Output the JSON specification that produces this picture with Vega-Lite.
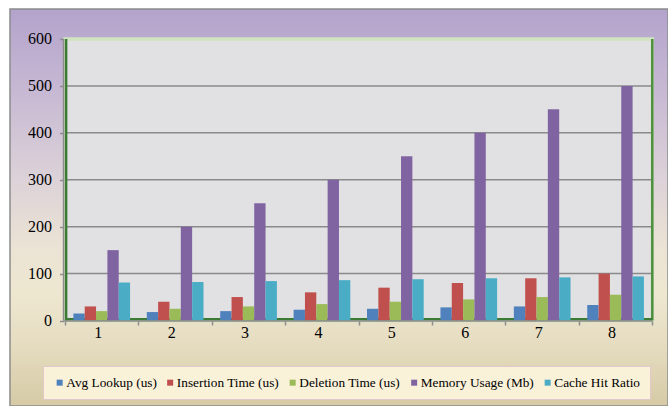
{
  "$schema": "https://vega.github.io/schema/vega-lite/v6.json",
  "width": 658,
  "height": 397,
  "autosize": {"type": "none"},
  "padding": {"left": 10, "top": 9, "right": 0, "bottom": 0},
  "background": "#FFFFFF",
  "config": {"view": {"stroke": null}, "font": "Liberation Serif"},
  "datasets": {
    "bars": [
      {"cat": "1", "series": "Avg Lookup (us)", "value": 15},
      {"cat": "2", "series": "Avg Lookup (us)", "value": 18},
      {"cat": "3", "series": "Avg Lookup (us)", "value": 20},
      {"cat": "4", "series": "Avg Lookup (us)", "value": 23},
      {"cat": "5", "series": "Avg Lookup (us)", "value": 25},
      {"cat": "6", "series": "Avg Lookup (us)", "value": 28},
      {"cat": "7", "series": "Avg Lookup (us)", "value": 30},
      {"cat": "8", "series": "Avg Lookup (us)", "value": 33},
      {"cat": "1", "series": "Insertion Time (us)", "value": 30},
      {"cat": "2", "series": "Insertion Time (us)", "value": 40},
      {"cat": "3", "series": "Insertion Time (us)", "value": 50},
      {"cat": "4", "series": "Insertion Time (us)", "value": 60},
      {"cat": "5", "series": "Insertion Time (us)", "value": 70},
      {"cat": "6", "series": "Insertion Time (us)", "value": 80},
      {"cat": "7", "series": "Insertion Time (us)", "value": 90},
      {"cat": "8", "series": "Insertion Time (us)", "value": 100},
      {"cat": "1", "series": "Deletion Time (us)", "value": 20},
      {"cat": "2", "series": "Deletion Time (us)", "value": 25},
      {"cat": "3", "series": "Deletion Time (us)", "value": 30},
      {"cat": "4", "series": "Deletion Time (us)", "value": 35},
      {"cat": "5", "series": "Deletion Time (us)", "value": 40},
      {"cat": "6", "series": "Deletion Time (us)", "value": 45},
      {"cat": "7", "series": "Deletion Time (us)", "value": 50},
      {"cat": "8", "series": "Deletion Time (us)", "value": 55},
      {"cat": "1", "series": "Memory Usage (Mb)", "value": 150},
      {"cat": "2", "series": "Memory Usage (Mb)", "value": 200},
      {"cat": "3", "series": "Memory Usage (Mb)", "value": 250},
      {"cat": "4", "series": "Memory Usage (Mb)", "value": 300},
      {"cat": "5", "series": "Memory Usage (Mb)", "value": 350},
      {"cat": "6", "series": "Memory Usage (Mb)", "value": 400},
      {"cat": "7", "series": "Memory Usage (Mb)", "value": 450},
      {"cat": "8", "series": "Memory Usage (Mb)", "value": 500},
      {"cat": "1", "series": "Cache Hit Ratio", "value": 81},
      {"cat": "2", "series": "Cache Hit Ratio", "value": 82},
      {"cat": "3", "series": "Cache Hit Ratio", "value": 84},
      {"cat": "4", "series": "Cache Hit Ratio", "value": 86},
      {"cat": "5", "series": "Cache Hit Ratio", "value": 88},
      {"cat": "6", "series": "Cache Hit Ratio", "value": 90},
      {"cat": "7", "series": "Cache Hit Ratio", "value": 92},
      {"cat": "8", "series": "Cache Hit Ratio", "value": 94}
    ],
    "grid": [{"v": 100}, {"v": 200}, {"v": 300}, {"v": 400}, {"v": 500}],
    "one": [{"k": 1}]
  },
  "layer": [
    {
      "data": {"name": "one"},
      "mark": {
        "type": "rect",
        "color": {
          "gradient": "linear", "x1": 0, "y1": 0, "x2": 0, "y2": 1,
          "stops": [
            {"offset": 0, "color": "#B3A3CC"},
            {"offset": 0.2, "color": "#C6B8D3"},
            {"offset": 0.43, "color": "#DCD2D8"},
            {"offset": 0.6, "color": "#EBE3D4"},
            {"offset": 0.72, "color": "#EEE7D0"},
            {"offset": 0.85, "color": "#E5DCC0"},
            {"offset": 1, "color": "#D6CAA5"}
          ]
        },
        "stroke": "#8C8C8C",
        "strokeWidth": 1.5
      },
      "encoding": {
        "y": {"datum": -182.2, "type": "quantitative", "title": null},
        "y2": {"datum": 663.9, "title": null}
      }
    },
    {
      "data": {"name": "one"},
      "mark": {"type": "rect", "fill": "#E1E1E3", "stroke": "#D0E3C0", "strokeWidth": 3.5},
      "encoding": {
        "x": {"datum": "1", "type": "ordinal", "bandPosition": 0, "title": null},
        "x2": {"datum": "8", "bandPosition": 1, "title": null},
        "y": {"datum": 0, "type": "quantitative", "title": null},
        "y2": {"datum": 600, "title": null}
      }
    },
    {
      "data": {"name": "grid"},
      "mark": {"type": "rule", "color": "#8A8A8A", "strokeWidth": 1.5},
      "encoding": {
        "x": {"datum": "1", "type": "ordinal", "bandPosition": 0, "title": null},
        "x2": {"datum": "8", "bandPosition": 1, "title": null},
        "y": {"field": "v", "type": "quantitative", "title": null}
      }
    },
    {
      "data": {"name": "one"},
      "mark": {"type": "rule", "color": "#3B7B34", "strokeWidth": 2.5},
      "encoding": {
        "x": {"datum": "1", "type": "ordinal", "bandPosition": 0.015, "title": null},
        "y": {"datum": 0, "type": "quantitative", "title": null},
        "y2": {"datum": 600, "title": null}
      }
    },
    {
      "data": {"name": "one"},
      "mark": {"type": "rule", "color": "#4E8F40", "strokeWidth": 2.5},
      "encoding": {
        "x": {"datum": "8", "type": "ordinal", "bandPosition": 1, "title": null},
        "y": {"datum": 0, "type": "quantitative", "title": null},
        "y2": {"datum": 600, "title": null}
      }
    },
    {
      "data": {"name": "one"},
      "mark": {"type": "rule", "color": "#3B7B34", "strokeWidth": 2.5},
      "encoding": {
        "x": {"datum": "1", "type": "ordinal", "bandPosition": 0, "title": null},
        "x2": {"datum": "8", "bandPosition": 1, "title": null},
        "y": {"datum": 2.5, "type": "quantitative", "title": null}
      }
    },
    {
      "data": {"name": "bars"},
      "mark": {"type": "bar"},
      "encoding": {
        "x": {
          "field": "cat", "type": "ordinal", "title": null,
          "scale": {"domain": ["1", "2", "3", "4", "5", "6", "7", "8"], "paddingInner": 0, "paddingOuter": 0.4817, "align": 0.778},
          "axis": {
            "title": null, "orient": "bottom", "offset": -85, "domain": false, "grid": false,
            "tickBand": "extent", "tickSize": 4, "tickColor": "#8C8C8C", "tickWidth": 1.5,
            "labelFont": "Liberation Serif", "labelFontSize": 16, "labelColor": "#000000",
            "labelPadding": 7, "labelAngle": 0, "zindex": 1
          }
        },
        "xOffset": {
          "field": "series", "type": "nominal",
          "sort": ["Avg Lookup (us)", "Insertion Time (us)", "Deletion Time (us)", "Memory Usage (Mb)", "Cache Hit Ratio"],
          "scale": {"paddingInner": 0, "paddingOuter": 0.737}
        },
        "y": {
          "field": "value", "type": "quantitative", "stack": null, "title": null,
          "scale": {"domain": [-182.2, 663.9], "nice": false, "zero": false},
          "axis": {
            "title": null, "offset": -53.5, "values": [0, 100, 200, 300, 400, 500, 600],
            "domain": false, "grid": false, "tickSize": 4, "tickColor": "#8C8C8C", "tickWidth": 1.5,
            "labelFont": "Liberation Serif", "labelFontSize": 16, "labelColor": "#000000",
            "labelPadding": 8, "zindex": 1
          }
        },
        "color": {
          "field": "series", "type": "nominal",
          "scale": {
            "domain": ["Avg Lookup (us)", "Insertion Time (us)", "Deletion Time (us)", "Memory Usage (Mb)", "Cache Hit Ratio"],
            "range": ["#4F81BD", "#C0504D", "#9BBB59", "#8064A2", "#4BACC6"]
          },
          "legend": {
            "title": null, "orient": "none", "legendX": 33, "legendY": 357,
            "direction": "horizontal", "columns": 5,
            "symbolType": "square", "symbolSize": 36, "symbolStrokeWidth": 0,
            "labelFont": "Liberation Serif", "labelFontSize": 13.3, "labelColor": "#000000",
            "labelOffset": 0, "columnPadding": 6.5, "padding": 10, "labelLimit": 300,
            "fillColor": "#FAF1D9", "strokeColor": "#E0C8CC", "zindex": 1
          }
        }
      }
    },
    {
      "data": {"name": "one"},
      "mark": {"type": "rule", "color": "#8C8C8C", "strokeWidth": 1.5},
      "encoding": {
        "x": {"datum": "1", "type": "ordinal", "bandPosition": -0.02, "title": null},
        "y": {"datum": 0, "type": "quantitative", "title": null},
        "y2": {"datum": 600, "title": null}
      }
    },
    {
      "data": {"name": "one"},
      "mark": {"type": "rule", "color": "#8C8C8C", "strokeWidth": 1.5},
      "encoding": {
        "x": {"datum": "1", "type": "ordinal", "bandPosition": -0.02, "title": null},
        "x2": {"datum": "8", "bandPosition": 1, "title": null},
        "y": {"datum": -1, "type": "quantitative", "title": null}
      }
    }
  ]
}
